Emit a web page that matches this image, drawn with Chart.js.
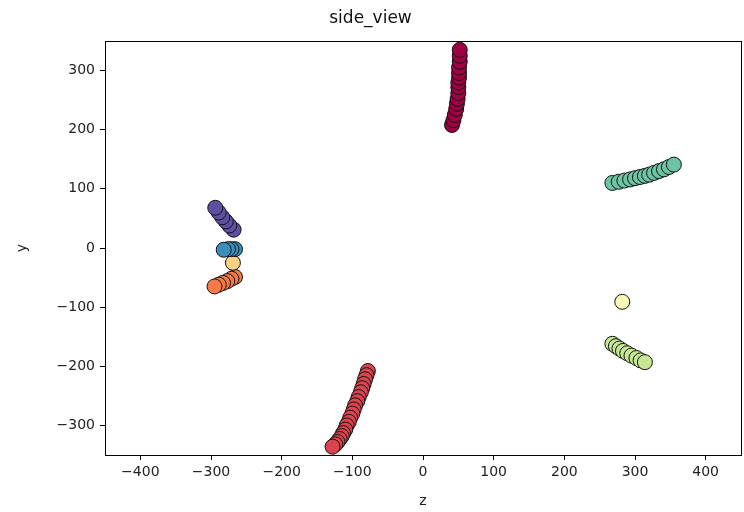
<!DOCTYPE html>
<html>
<head>
<meta charset="utf-8">
<title>side_view</title>
<script src="https://cdn.jsdelivr.net/npm/chart.js@4.4.1/dist/chart.umd.min.js"></script>
<style>
  html, body { margin: 0; padding: 0; background: #fff; }
  #wrap { width: 744px; height: 512px; }
</style>
</head>
<body>
<div id="wrap"><canvas id="sideChart" width="744" height="512"></canvas></div>
<script>
// tick positions on both axes
var xTicks = [-400, -300, -200, -100, 0, 100, 200, 300, 400];
var yTicks = [-300, -200, -100, 0, 100, 200, 300];

// one group of joints per colour, z (horizontal) and y (vertical)
var crimsonZ = [41, 43, 45, 47, 48, 49, 50, 50, 50, 51, 51, 51, 52, 52, 52];
var crimsonY = [208, 216, 225, 235, 244, 252, 262, 272, 280, 288, 296, 305, 315, 325, 335];

var redZ = [-78, -80, -82, -84, -86, -88, -91, -93, -96, -98, -100, -103, -105, -108, -110, -113, -115, -118, -121, -124, -128];
var redY = [-208, -215, -222, -230, -237, -244, -252, -259, -266, -273, -280, -287, -294, -300, -307, -313, -318, -323, -328, -332, -336];

var orangeZ = [-266, -271, -277, -283, -289, -295];
var orangeY = [-49, -52, -56, -59, -62, -65];

var peachZ = [-269];
var peachY = [-25];

var creamZ = [282];
var creamY = [-91];

var limeZ = [268, 273, 278, 283, 289, 295, 302, 308, 314];
var limeY = [-162, -166, -170, -174, -178, -182, -186, -190, -193];

var greenZ = [268, 277, 285, 293, 300, 307, 314, 320, 327, 334, 341, 348, 355];
var greenY = [110, 112, 114, 116, 118, 120, 122, 124, 127, 130, 133, 137, 141];

var blueZ = [-266, -271, -276, -282];
var blueY = [-2, -2, -2, -3];

var purpleZ = [-268, -274, -279, -284, -289, -294];
var purpleY = [31, 38, 45, 52, 60, 68];

function pts(zs, ys) {
  return zs.map(function (z, i) { return { x: z, y: ys[i] }; });
}

function group(zs, ys, color) {
  return {
    data: pts(zs, ys),
    backgroundColor: color,
    borderColor: '#111',
    borderWidth: 1,
    pointRadius: 7.5,
    pointHoverRadius: 7.5
  };
}

function minusFmt(v) {
  return v < 0 ? '\u2212' + Math.abs(v) : '' + v;
}

// full box around the plot area
var frame = {
  id: 'frame',
  afterDatasetsDraw: function (chart) {
    var a = chart.chartArea, c = chart.ctx;
    c.save();
    c.strokeStyle = '#000';
    c.lineWidth = 1;
    c.strokeRect(Math.round(a.left) + 0.5, Math.round(a.top) + 0.5,
      Math.round(a.right - a.left), Math.round(a.bottom - a.top));
    c.restore();
  }
};

var font = { family: 'DejaVu Sans', size: 14 };

new Chart(document.getElementById('sideChart'), {
  type: 'scatter',
  data: {
    datasets: [
      group(purpleZ, purpleY, '#5e4fa2'),
      group(blueZ, blueY, '#3a8fbd'),
      group(greenZ, greenY, '#6cc4a4'),
      group(limeZ, limeY, '#c6e894'),
      group(creamZ, creamY, '#f9fbb6'),
      group(peachZ, peachY, '#fdd17f'),
      group(orangeZ, orangeY, '#f57a48'),
      group(redZ, redY, '#d9444e'),
      group(crimsonZ, crimsonY, '#9e0142')
    ]
  },
  options: {
    responsive: false,
    animation: false,
    layout: { autoPadding: false, padding: { left: 0, right: 3, top: 0, bottom: 0 } },
    plugins: {
      legend: { display: false },
      tooltip: { enabled: false },
      title: {
        display: true,
        text: 'side_view',
        color: '#111',
        font: { family: 'DejaVu Sans', size: 17, weight: 'normal' },
        padding: { top: 8, bottom: 12.6 }
      }
    },
    scales: {
      x: {
        type: 'linear',
        min: -450,
        max: 450,
        afterBuildTicks: function (s) { s.ticks = xTicks.map(function (v) { return { value: v }; }); },
        afterFit: function (s) { s.height = 57; s.paddingLeft = 0; s.paddingRight = 0; },
        grid: { drawOnChartArea: false, drawTicks: true, tickLength: 5, color: '#000' },
        border: { display: true, color: '#000' },
        ticks: { color: '#222', font: font, padding: 4, maxRotation: 0, callback: minusFmt },
        title: { display: true, text: 'z', color: '#222', font: font, padding: { top: 2, bottom: 2 } }
      },
      y: {
        type: 'linear',
        min: -350,
        max: 350,
        afterBuildTicks: function (s) { s.ticks = yTicks.map(function (v) { return { value: v }; }); },
        afterFit: function (s) { s.width = 105; s.paddingTop = 0; s.paddingBottom = 0; },
        grid: { drawOnChartArea: false, drawTicks: true, tickLength: 5, color: '#000' },
        border: { display: true, color: '#000' },
        ticks: { color: '#222', font: font, padding: 5, callback: minusFmt },
        title: { display: true, text: 'y', color: '#222', font: font, padding: { top: 14, bottom: 0 } }
      }
    }
  },
  plugins: [frame]
});
</script>
</body>
</html>
